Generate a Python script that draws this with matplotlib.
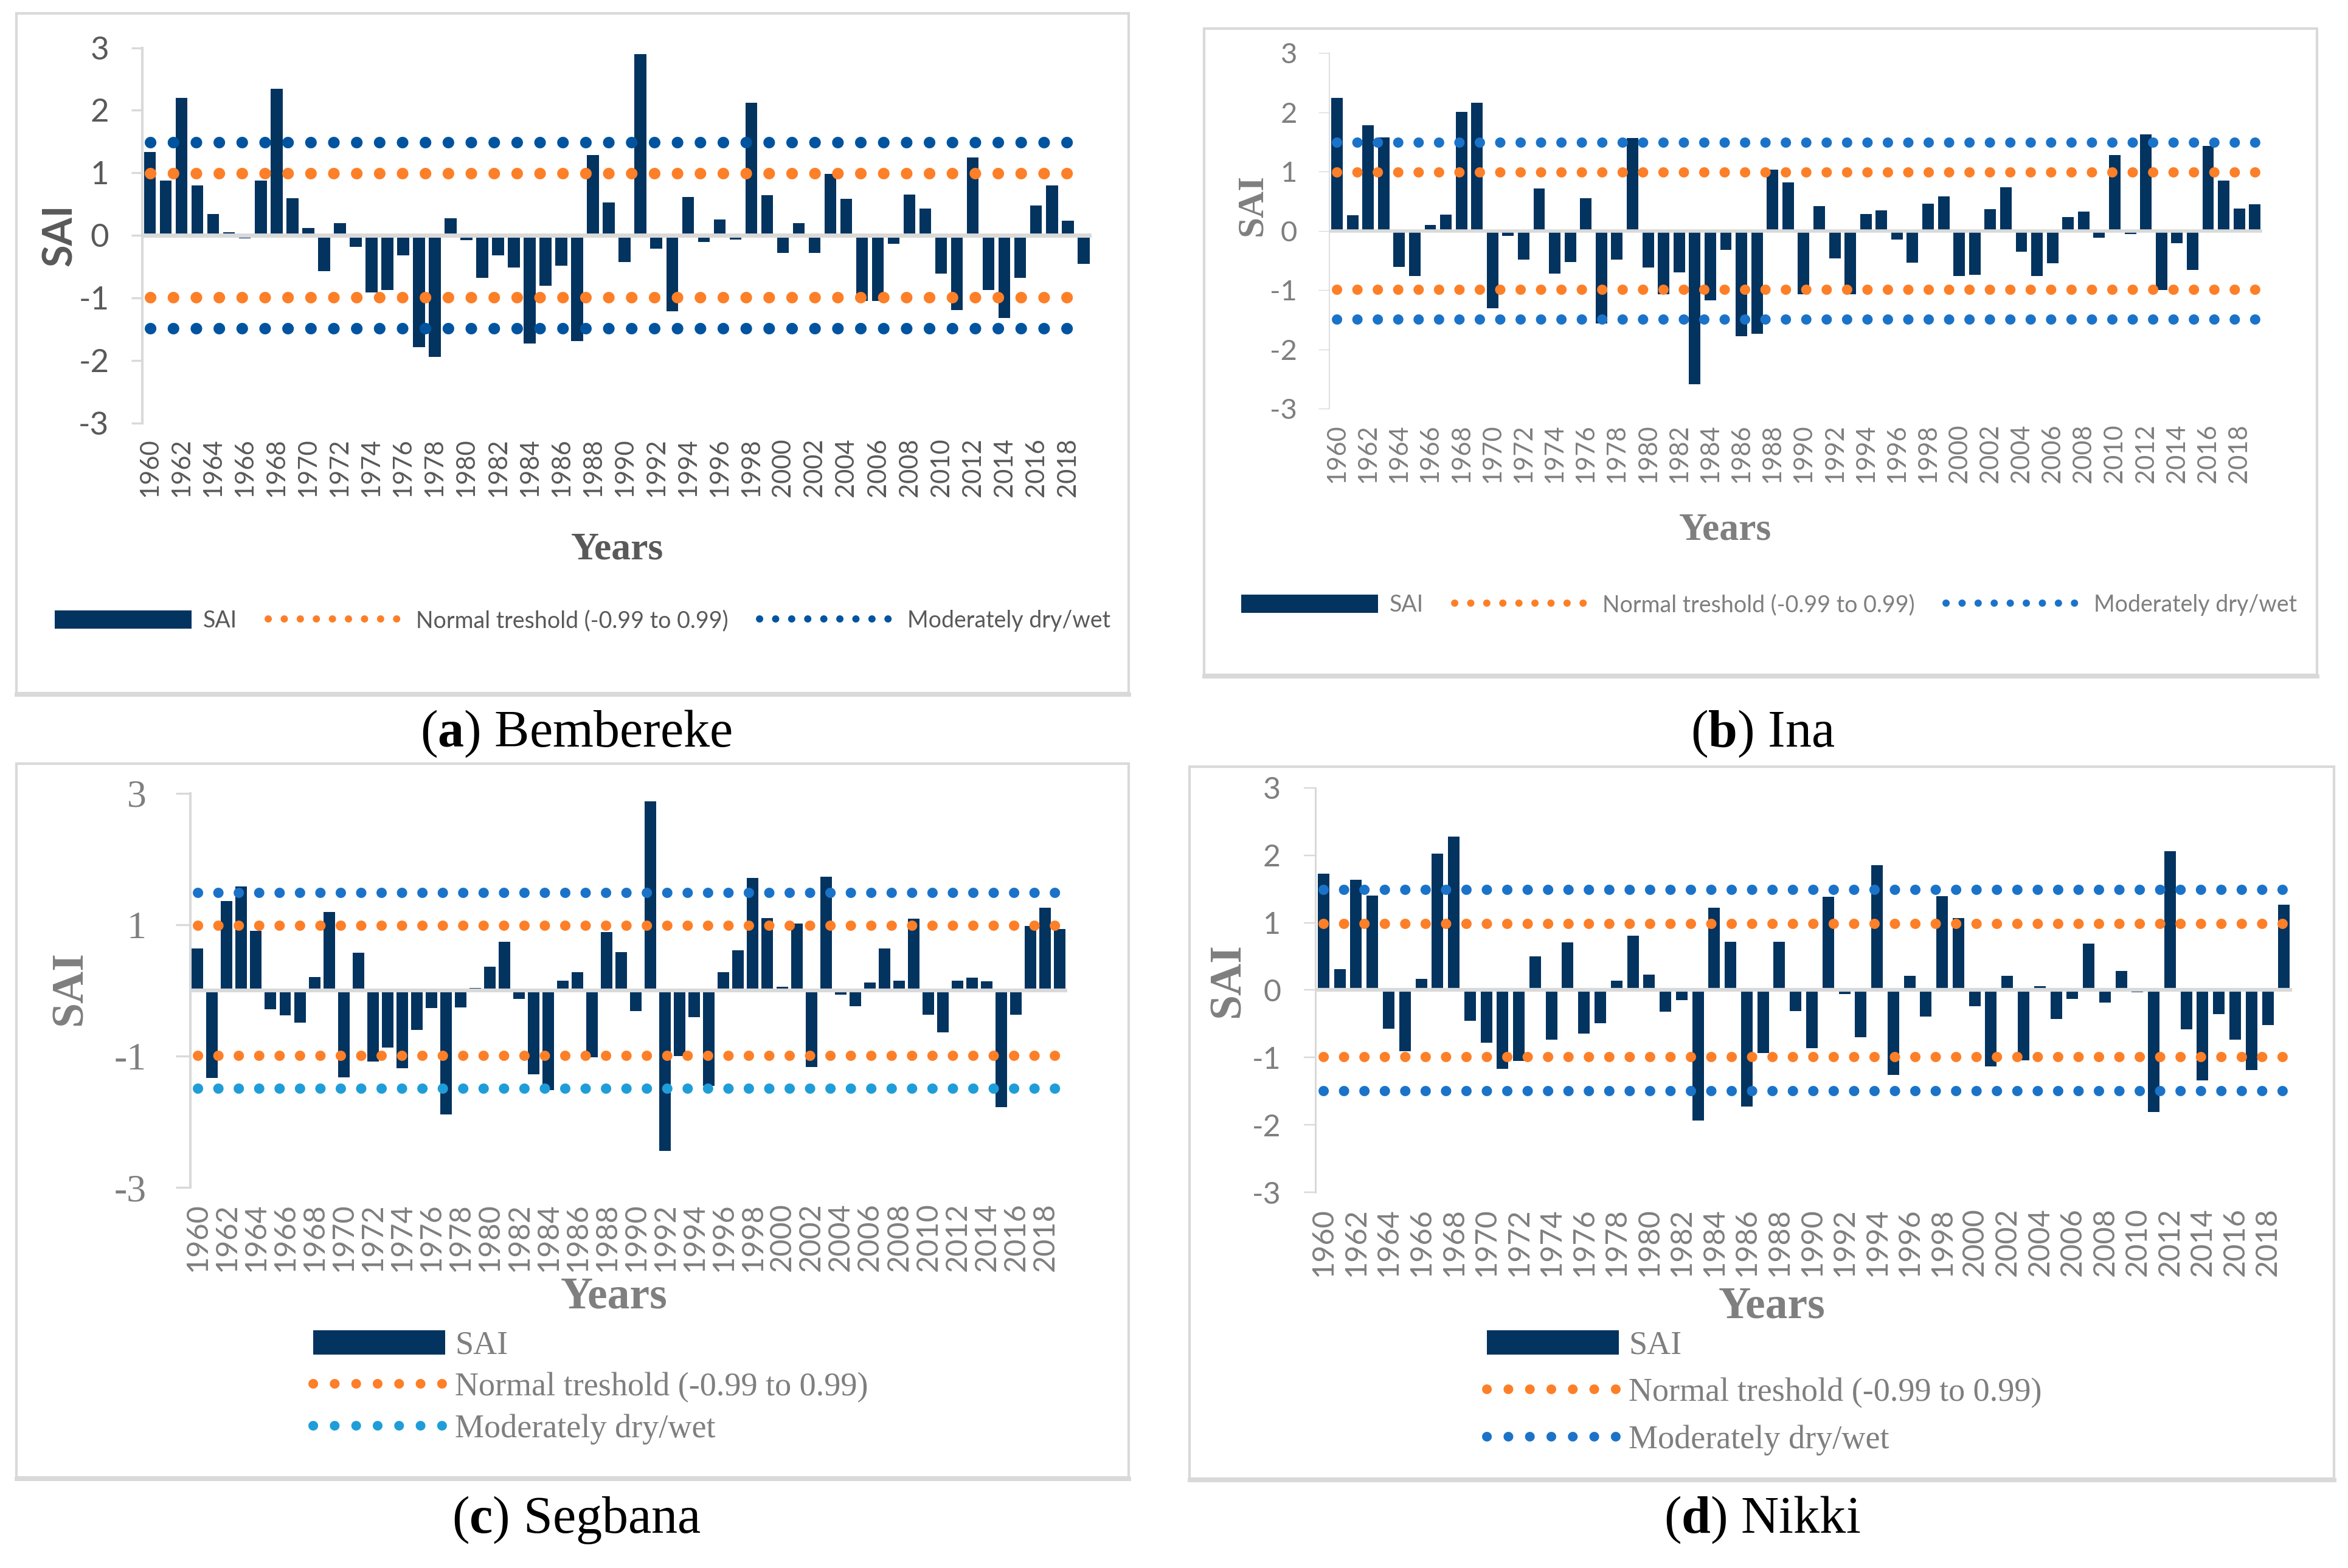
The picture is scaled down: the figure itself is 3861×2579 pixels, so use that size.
import matplotlib
matplotlib.use("Agg")
import matplotlib.pyplot as plt
from matplotlib.patches import Rectangle
from matplotlib.lines import Line2D

plt.rcParams["mathtext.fontset"] = "custom"
plt.rcParams["mathtext.rm"] = "Liberation Serif"
plt.rcParams["mathtext.bf"] = "Liberation Serif:bold"

W, H, DPI = 3862, 2579, 100

# --- data ----------------------------------------------------------------
years = list(range(1960, 2020))
year_labels = [str(y) if y % 2 == 0 else "" for y in years]

sai_bembereke = [1.33, 0.88, 2.20, 0.80, 0.34, 0.05, -0.05, 0.88, 2.34, 0.59,
                 0.12, -0.57, 0.20, -0.18, -0.91, -0.87, -0.32, -1.79, -1.94, 0.27,
                 -0.08, -0.68, -0.32, -0.51, -1.73, -0.81, -0.49, -1.69, 1.28, 0.53,
                 -0.43, 2.90, -0.21, -1.21, 0.61, -0.11, 0.25, -0.07, 2.12, 0.64,
                 -0.28, 0.20, -0.28, 0.98, 0.58, -1.05, -1.05, -0.14, 0.65, 0.43,
                 -0.61, -1.20, 1.25, -0.87, -1.32, -0.68, 0.48, 0.80, 0.23, -0.46]
sai_ina = [2.24, 0.26, 1.78, 1.58, -0.61, -0.76, 0.10, 0.27, 2.01, 2.16,
           -1.31, -0.09, -0.49, 0.71, -0.72, -0.53, 0.55, -1.56, -0.49, 1.57,
           -0.62, -1.07, -0.70, -2.59, -1.17, -0.32, -1.78, -1.74, 1.03, 0.82,
           -1.07, 0.42, -0.47, -1.07, 0.28, 0.35, -0.15, -0.54, 0.46, 0.58,
           -0.76, -0.74, 0.37, 0.74, -0.35, -0.76, -0.55, 0.23, 0.32, -0.12,
           1.28, -0.05, 1.63, -1.00, -0.21, -0.66, 1.43, 0.85, 0.38, 0.45]
sai_segbana = [0.64, -1.33, 1.36, 1.58, 0.91, -0.29, -0.38, -0.49, 0.20, 1.19,
               -1.32, 0.57, -1.08, -0.87, -1.19, -0.60, -0.27, -1.89, -0.26, 0.04,
               0.36, 0.74, -0.13, -1.28, -1.52, 0.15, 0.28, -1.02, 0.89, 0.58,
               -0.32, 2.88, -2.44, -1.00, -0.41, -1.45, 0.28, 0.61, 1.71, 1.10,
               0.05, 1.02, -1.17, 1.73, -0.07, -0.24, 0.12, 0.64, 0.15, 1.09,
               -0.37, -0.64, 0.15, 0.19, 0.14, -1.78, -0.37, 0.98, 1.26, 0.93]
sai_nikki = [1.73, 0.31, 1.64, 1.40, -0.57, -0.91, 0.17, 2.02, 2.28, -0.46,
             -0.78, -1.17, -1.05, 0.50, -0.74, 0.71, -0.65, -0.49, 0.14, 0.81,
             0.23, -0.32, -0.15, -1.94, 1.22, 0.72, -1.73, -0.93, 0.72, -0.31,
             -0.86, 1.38, -0.06, -0.70, 1.85, -1.26, 0.21, -0.39, 1.39, 1.07,
             -0.24, -1.13, 0.21, -1.04, 0.06, -0.43, -0.13, 0.69, -0.19, 0.28,
             -0.03, -1.81, 2.06, -0.58, -1.34, -0.36, -0.74, -1.19, -0.52, 1.27]

normal_low, normal_high = -0.99, 0.99
moderate_low, moderate_high = -1.49, 1.49

ticks_full = [-3, -2, -1, 0, 1, 2, 3]
ticks_odd = [-3, -1, 1, 3]

legend_labels = ["SAI", "Normal treshold (-0.99 to 0.99)", "Moderately dry/wet"]

# --- style -----------------------------------------------------------------
NAVY = "#03335f"
ORANGE = "#fd7f28"
BLUE_DARK = "#00549f"
BLUE = "#1a73c8"
BLUE_LIGHT = "#1f9dd9"
EDGE = "#d9d9d9"
GREY_D = "#595959"
GREY = "#7f7f7f"
SANS = ["Lato", "DejaVu Sans"]
SERIF = ["Liberation Serif", "DejaVu Serif"]

fig = plt.figure(figsize=(W / DPI, H / DPI), dpi=DPI)


def fx(x):
    return x / W


def fy(y):
    return 1 - y / H


def axes_px(l, t, r, b):
    return fig.add_axes([fx(l), fy(b), (r - l) / W, (b - t) / H])


def frame_px(l, t, r, b):
    fig.add_artist(Rectangle((fx(l), fy(b)), (r - l) / W, (b - t) / H,
                             transform=fig.transFigure, fill=False, ec=EDGE, lw=3))
    fig.add_artist(Line2D([fx(l), fx(r)], [fy(b + 2), fy(b + 2)],
                          transform=fig.transFigure, color=EDGE, lw=5))


def dotted(lw, gap):
    return dict(lw=lw, ls=(0, (0.01, gap)), dash_capstyle="round")


def panel(ax, sai, yticks, bar_w, dot_lw, dot_gap, hi_col, lo_col,
          tick_font, tick_size, tick_col, tick_len, tick_pad, spine_w,
          xt_size, zero_w):
    x = list(range(len(years)))
    ax.bar(x, sai, width=bar_w, color=NAVY, zorder=2)
    ax.axhline(0, color=EDGE, lw=zero_w, zorder=3)
    ax.plot(x, [normal_high] * len(x), color=ORANGE, zorder=4, **dotted(dot_lw, dot_gap))
    ax.plot(x, [normal_low] * len(x), color=ORANGE, zorder=4, **dotted(dot_lw, dot_gap))
    ax.plot(x, [moderate_high] * len(x), color=hi_col, zorder=4, **dotted(dot_lw, dot_gap))
    ax.plot(x, [moderate_low] * len(x), color=lo_col, zorder=4, **dotted(dot_lw, dot_gap))
    ax.set_xlim(-0.5, len(years) - 0.5)
    ax.set_ylim(-3, 3)
    ax.set_yticks(yticks)
    ax.set_yticklabels([str(t) for t in yticks], family=tick_font, size=tick_size, color=tick_col)
    ax.set_xticks(x)
    ax.set_xticklabels(year_labels, rotation=90, family=SANS, size=xt_size, color=tick_col)
    ax.tick_params(axis="x", length=0, pad=18)
    ax.tick_params(axis="y", length=tick_len, width=spine_w * 0.8, color=EDGE, pad=tick_pad)
    for s in ("top", "right", "bottom"):
        ax.spines[s].set_visible(False)
    ax.spines["left"].set_color(EDGE)
    ax.spines["left"].set_linewidth(spine_w)
    ax.patch.set_alpha(0)


def labels(ax, xlab, ylab, ylab_font, ylab_size, ylab_col, xlab_size, xlab_col):
    ax.set_xlabel("Years", family=SERIF, weight="bold", size=xlab_size, color=xlab_col)
    ax.xaxis.set_label_coords(fx(xlab[0]), fy(xlab[1]), transform=fig.transFigure)
    ax.xaxis.label.set_va("center")
    ax.set_ylabel("SAI", family=ylab_font, weight="bold", size=ylab_size, color=ylab_col)
    ax.yaxis.set_label_coords(fx(ylab[0]), fy(ylab[1]), transform=fig.transFigure)
    ax.yaxis.label.set_va("center")


def legend(anchor, loc, ncol, font, size, col, dot_lw, dot_gap, lo_col,
           hl, hh, htp, cs, ls):
    handles = [Rectangle((0, 0), 1, 1, fc=NAVY, ec="none"),
               Line2D([], [], color=ORANGE, **dotted(dot_lw, dot_gap)),
               Line2D([], [], color=lo_col, **dotted(dot_lw, dot_gap))]
    fig.legend(handles, legend_labels, loc=loc, bbox_to_anchor=(fx(anchor[0]), fy(anchor[1])),
               bbox_transform=fig.transFigure, ncol=ncol, frameon=False,
               prop=dict(family=font, size=size), labelcolor=col,
               handlelength=hl, handleheight=hh, handletextpad=htp,
               columnspacing=cs, labelspacing=ls, borderpad=0, borderaxespad=0)


def caption(letter, name, x, y):
    fig.text(fx(x), fy(y), r"($\mathbf{%s}$) %s" % (letter, name), family=SERIF,
             size=62, ha="center", va="center", color="black")


# --- frames ----------------------------------------------------------------
frame_px(27, 22, 1856, 1140)
frame_px(1980, 47, 3810, 1110)
frame_px(27, 1256, 1856, 2430)
frame_px(1956, 1261, 3838, 2432)

# --- (a) Bembereke -----------------------------------------------------------
ax_a = axes_px(233.6, 78.6, 1794.8, 695.6)
panel(ax_a, sai_bembereke, ticks_full, 0.75, 13.7, 1.97, BLUE_DARK, BLUE_DARK,
      SANS, 38, GREY_D, 13, 26, 3, 30, 5)
labels(ax_a, (1015, 904), (99, 387), SANS, 48, GREY_D, 46, GREY_D)
legend((90, 1021), "center left", 3, SANS, 27, GREY_D, 8.6, 2.2, BLUE_DARK,
       6.0, 0.85, 0.5, 1.35, 0.3)
caption("a", "Bembereke", 948, 1207)

# --- (b) Ina -----------------------------------------------------------------
ax_b = axes_px(2185.7, 87.3, 3720.5, 672)
panel(ax_b, sai_ina, ticks_full, 0.74, 12.2, 1.97, BLUE, BLUE,
      SANS, 34, GREY, 13, 25, 1.2, 30, 4)
labels(ax_b, (2837, 872), (2059, 337), SERIF, 44, GREY, 46, GREY)
legend((2041, 995), "center left", 3, SANS, 27, GREY, 8.6, 2.2, BLUE,
       6.0, 0.85, 0.5, 1.35, 0.3)
caption("b", "Ina", 2899, 1207)

# --- (c) Segbana -------------------------------------------------------------
ax_c = axes_px(312.8, 1304.8, 1754.6, 1953)
panel(ax_c, sai_segbana, ticks_odd, 0.79, 12.2, 1.97, BLUE, BLUE_LIGHT,
      SERIF, 46, GREY, 17, 35, 3, 35, 4.5)
labels(ax_c, (1010, 2133), (116, 1626), SERIF, 53, GREY, 53, GREY)
legend((515, 2188), "upper left", 1, SERIF, 39, GREY, 11.5, 2.2, BLUE_LIGHT,
       4.0, 0.75, 0.3, 1.0, 0.33)
caption("c", "Segbana", 948, 2500)

# --- (d) Nikki ---------------------------------------------------------------
ax_d = axes_px(2163, 1295.8, 3769.2, 1961)
panel(ax_d, sai_nikki, ticks_full, 0.71, 12.2, 1.97, BLUE, BLUE,
      SANS, 36, GREY, 14, 27, 2.2, 35, 4.5)
labels(ax_d, (2914, 2150), (2020, 1613), SERIF, 53, GREY, 53, GREY)
legend((2445, 2188), "upper left", 1, SERIF, 39, GREY, 11.5, 2.2, BLUE,
       4.0, 0.75, 0.3, 1.0, 0.50)
caption("d", "Nikki", 2898, 2500)

fig.savefig("out.png", dpi=DPI)
